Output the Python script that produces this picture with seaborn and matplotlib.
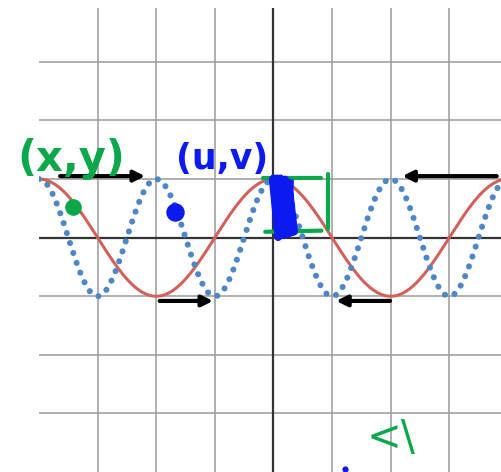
import numpy as np
import pandas as pd
import matplotlib
matplotlib.use("Agg")
import matplotlib.pyplot as plt
import seaborn as sns

# Two cosine waves: y = A cos(2*pi*x / T)
curve_names = ["slow", "fast"]
amplitudes = [1.0, 1.0]
periods = [4.0, 2.0]
x_range = [-4.0, 3.92]

# Shift arrows (start x, end x, y)
arrow_starts = [-3.64, -1.94, 3.81, 1.99]
arrow_ends = [-2.19, -1.03, 2.20, 1.07]
arrow_ys = [1.05, -1.08, 1.05, -1.08]

sns.set_theme(style="white")
plt.rcParams["font.family"] = ["DejaVu Sans"]

fig = plt.figure(figsize=(5.02, 4.72), dpi=100)
ax = fig.add_axes([39 / 502, 0.0, (502 - 39) / 502, (472 - 8) / 472])

xs = np.linspace(x_range[0], x_range[1], 800)
frames = []
for name, a, t in zip(curve_names, amplitudes, periods):
    frames.append(pd.DataFrame({"x": xs, "y": a * np.cos(2 * np.pi * xs / t), "curve": name}))
df = pd.concat(frames, ignore_index=True)

sns.lineplot(data=df[df.curve == "slow"], x="x", y="y", color="#d0625b", lw=2.2, ax=ax,
             legend=False, zorder=3)
sns.lineplot(data=df[df.curve == "fast"], x="x", y="y", color="#4f87c5", lw=4.4, ax=ax,
             legend=False, zorder=4, linestyle=(0, (0.01, 1.7)), dash_capstyle="round")

ax.set_xlim(x_range[0], 3.9)
ax.set_ylim(-4.0, 3.92)
ax.set_xticks(np.arange(-3, 4, 1))
ax.set_yticks(np.arange(-3, 4, 1))
ax.grid(True, color="#9a9a9a", lw=1.1)
ax.axhline(0, color="#333333", lw=1.6, zorder=2)
ax.axvline(0, color="#333333", lw=1.6, zorder=2)
ax.set_xticklabels([])
ax.set_yticklabels([])
ax.tick_params(length=0)
ax.set_xlabel("")
ax.set_ylabel("")
for s in ax.spines.values():
    s.set_visible(False)

for x0, x1, y in zip(arrow_starts, arrow_ends, arrow_ys):
    ax.annotate("", xy=(x1, y), xytext=(x0, y),
                arrowprops=dict(arrowstyle="-|>", color="black", lw=3, mutation_scale=16,
                                shrinkA=0, shrinkB=0), zorder=6)

green = "#0aa84a"
blue = "#0a1af0"

# handwritten notes
ax.text(-3.45, 1.35, "(x,y)", color=green, fontsize=30, ha="center", va="center",
        fontweight="bold", zorder=7)
ax.text(-0.88, 1.35, "(u,v)", color=blue, fontsize=25, ha="center", va="center",
        fontweight="bold", zorder=7)
ax.scatter([-3.42], [0.52], s=120, color=green, zorder=7)
ax.scatter([-1.68], [0.43], s=150, color=blue, zorder=7)

# green box
ax.plot([-0.18, 0.82], [1.02, 1.02], color=green, lw=3, solid_capstyle="round", zorder=7)
ax.plot([0.93, 0.93], [1.08, 0.15], color=green, lw=3, solid_capstyle="round", zorder=7)
ax.plot([-0.14, 0.82], [0.10, 0.12], color=green, lw=3, solid_capstyle="round", zorder=7)

# blue scribble
zx = [-0.02, 0.08, 0.0, 0.14, 0.06, 0.2, 0.12, 0.28, 0.2, 0.34, 0.26, 0.36, 0.08, 0.3]
zy = [1.0, 0.0, 1.02, 0.05, 1.02, 0.05, 1.02, 0.08, 1.0, 0.1, 0.95, 0.1, 0.02, 0.12]
ax.plot(zx, zy, color=blue, lw=5, solid_joinstyle="round", zorder=8)
ax.fill([0.0, 0.34, 0.3, 0.05], [1.0, 0.98, 0.1, 0.02], color=blue, alpha=0.85, zorder=8)

ax.text(2.0, -3.42, "<\\", color=green, fontsize=30, ha="center", va="center", zorder=7)
ax.scatter([1.22], [-3.95], s=12, color=blue, zorder=7)

fig.savefig("out.png", dpi=100)
